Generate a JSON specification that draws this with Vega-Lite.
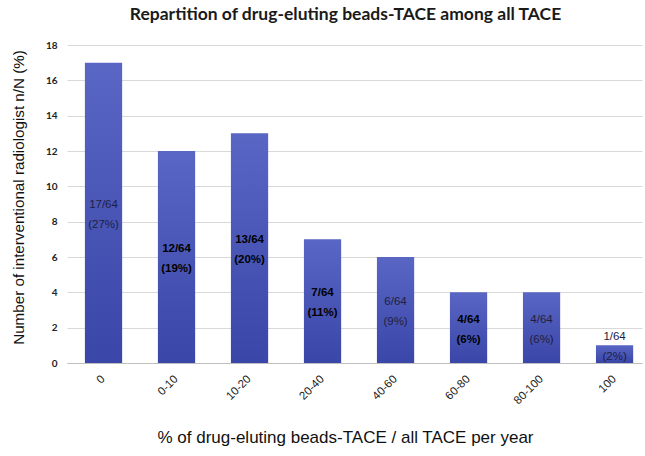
{
  "$schema": "https://vega.github.io/schema/vega-lite/v6.json",
  "width": 575,
  "height": 318,
  "autosize": {"type": "none"},
  "padding": {"left": 67, "top": 45, "right": 3, "bottom": 93},
  "background": "white",
  "title": {
    "text": "Repartition of drug-eluting beads-TACE among all TACE",
    "font": "Lato",
    "fontSize": 17.5,
    "fontWeight": "bold",
    "color": "#1a1a1a",
    "anchor": "middle",
    "offset": 17,
    "dx": -9
  },
  "config": {"view": {"stroke": null}},
  "data": {
    "values": [
      {"cat": "0", "n": 17, "frac": "17/64", "pct": "(27%)"},
      {"cat": "0-10", "n": 12, "frac": "12/64", "pct": "(19%)"},
      {"cat": "10-20", "n": 13, "frac": "13/64", "pct": "(20%)"},
      {"cat": "20-40", "n": 7, "frac": "7/64", "pct": "(11%)"},
      {"cat": "40-60", "n": 6, "frac": "6/64", "pct": "(9%)"},
      {"cat": "60-80", "n": 4, "frac": "4/64", "pct": "(6%)"},
      {"cat": "80-100", "n": 4, "frac": "4/64", "pct": "(6%)"},
      {"cat": "100", "n": 1, "frac": "1/64", "pct": "(2%)"}
    ]
  },
  "transform": [{"calculate": "max(datum.n/2, 1)", "as": "mid"}],
  "resolve": {"axis": {"y": "independent"}},
  "encoding": {
    "x": {
      "field": "cat",
      "type": "nominal",
      "sort": null,
      "scale": {"paddingInner": 0.49, "paddingOuter": 0.183, "align": 0.67},
      "axis": {
        "domainColor": "#bfbfbf",
        "ticks": false,
        "grid": false,
        "labelAngle": -45,
        "labelAlign": "right",
        "labelBaseline": "middle",
        "labelPadding": 14,
        "labelFont": "Liberation Sans",
        "labelFontSize": 11.5,
        "labelColor": "#222222",
        "title": "% of drug-eluting beads-TACE / all TACE per year",
        "titleFont": "Liberation Sans",
        "titleFontSize": 17,
        "titleFontWeight": "normal",
        "titleColor": "#111111",
        "titleX": 278,
        "titleY": 74,
        "titleAlign": "center",
        "titleBaseline": "middle"
      }
    }
  },
  "layer": [
    {
      "mark": {
        "type": "bar",
        "color": {
          "gradient": "linear",
          "x1": 0, "y1": 0, "x2": 0, "y2": 1,
          "stops": [
            {"offset": 0, "color": "#5a66c4"},
            {"offset": 1, "color": "#3a46a8"}
          ]
        }
      },
      "encoding": {
        "y": {
          "field": "n",
          "type": "quantitative",
          "scale": {"domain": [0, 18], "nice": false},
          "axis": {
            "values": [0, 2, 4, 6, 8, 10, 12, 14, 16, 18],
            "labelOverlap": false,
            "grid": true,
            "gridColor": "#d9d9d9",
            "domain": false,
            "ticks": false,
            "labelFont": "Lato",
            "labelFontWeight": "bold",
            "labelFontSize": 10,
            "labelColor": "#222222",
            "labelPadding": 10,
            "title": "Number of interventional radiologist n/N (%)",
            "titleFont": "Liberation Sans",
            "titleFontSize": 15.2,
            "titleFontWeight": "normal",
            "titleColor": "#111111",
            "titleAngle": -90,
            "titleX": -49,
            "titleY": 152,
            "titleAlign": "center",
            "titleBaseline": "middle"
          }
        }
      }
    },
    {
      "transform": [{"filter": {"field": "cat", "oneOf": ["0-10", "10-20", "20-40", "60-80"]}}],
      "mark": {"type": "text", "font": "Liberation Sans", "fontSize": 11.5, "fontWeight": "bold", "color": "#000000", "baseline": "middle", "dy": -8},
      "encoding": {"y": {"field": "mid", "type": "quantitative", "axis": null}, "text": {"field": "frac"}}
    },
    {
      "transform": [{"filter": {"field": "cat", "oneOf": ["0-10", "10-20", "20-40", "60-80"]}}],
      "mark": {"type": "text", "font": "Liberation Sans", "fontSize": 11.5, "fontWeight": "bold", "color": "#000000", "baseline": "middle", "dy": 12},
      "encoding": {"y": {"field": "mid", "type": "quantitative", "axis": null}, "text": {"field": "pct"}}
    },
    {
      "transform": [{"filter": {"field": "cat", "oneOf": ["0", "40-60", "80-100", "100"]}}],
      "mark": {"type": "text", "font": "Liberation Sans", "fontSize": 11.5, "color": "#1e2040", "baseline": "middle", "dy": -8},
      "encoding": {"y": {"field": "mid", "type": "quantitative", "axis": null}, "text": {"field": "frac"}}
    },
    {
      "transform": [{"filter": {"field": "cat", "oneOf": ["0", "40-60", "80-100", "100"]}}],
      "mark": {"type": "text", "font": "Liberation Sans", "fontSize": 11.5, "color": "#1e2040", "baseline": "middle", "dy": 12},
      "encoding": {"y": {"field": "mid", "type": "quantitative", "axis": null}, "text": {"field": "pct"}}
    }
  ]
}
